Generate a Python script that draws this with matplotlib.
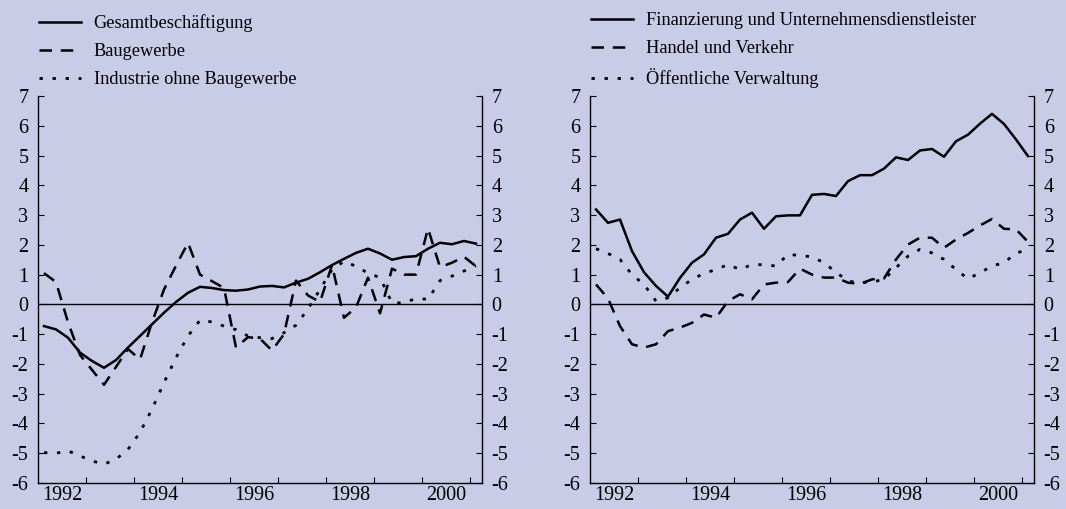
import numpy as np
import matplotlib
matplotlib.use('Agg')
import matplotlib.pyplot as plt

plt.rcParams['font.family'] = ['Liberation Serif', 'DejaVu Serif']
plt.rcParams['axes.unicode_minus'] = False

# quarterly data, 1992Q1 - 2001Q1 (year-on-year % change)
years = [1992] * 4 + [1993] * 4 + [1994] * 4 + [1995] * 4 + [1996] * 4 + \
        [1997] * 4 + [1998] * 4 + [1999] * 4 + [2000] * 4 + [2001]
quarters = [1, 2, 3, 4] * 9 + [1]

gesamt = [-0.73, -0.84, -1.12, -1.62, -1.90, -2.13, -1.87, -1.45, -1.06, -0.67,
          -0.28, 0.08, 0.39, 0.59, 0.55, 0.48, 0.46, 0.50, 0.60, 0.62,
          0.57, 0.73, 0.86, 1.08, 1.32, 1.53, 1.73, 1.87, 1.71, 1.50,
          1.59, 1.62, 1.87, 2.07, 2.02, 2.13, 2.04]
bau = [1.05, 0.75, -0.60, -1.70, -2.20, -2.70, -2.10, -1.50, -1.85, -0.60,
       0.50, 1.30, 2.07, 1.00, 0.78, 0.55, -1.45, -1.10, -1.15, -1.55,
       -1.00, 0.80, 0.30, 0.08, 1.32, -0.45, -0.10, 0.90, -0.30, 1.20,
       1.00, 1.00, 2.55, 1.25, 1.40, 1.60, 1.28]
industrie = [-4.98, -5.00, -4.92, -5.09, -5.26, -5.37, -5.20, -4.87, -4.30, -3.52,
             -2.63, -1.79, -1.06, -0.53, -0.59, -0.73, -0.85, -1.06, -1.12, -1.15,
             -0.95, -0.70, -0.15, 0.50, 1.17, 1.45, 1.28, 1.05, 0.90, 0.05,
             0.05, 0.20, 0.17, 0.80, 0.95, 1.12, 1.30]

finanz = [3.19, 2.74, 2.85, 1.79, 1.08, 0.62, 0.26, 0.89, 1.40, 1.68,
          2.24, 2.37, 2.85, 3.08, 2.54, 2.96, 2.99, 2.99, 3.68, 3.71,
          3.64, 4.14, 4.34, 4.34, 4.56, 4.94, 4.85, 5.17, 5.22, 4.96,
          5.48, 5.70, 6.07, 6.40, 6.06, 5.54, 4.98]
handel = [0.67, 0.20, -0.73, -1.34, -1.45, -1.34, -0.90, -0.78, -0.62, -0.34,
          -0.45, 0.11, 0.34, 0.17, 0.67, 0.73, 0.75, 1.20, 1.00, 0.90,
          0.90, 0.73, 0.69, 0.84, 0.87, 1.51, 2.01, 2.24, 2.24, 1.90,
          2.18, 2.40, 2.65, 2.87, 2.54, 2.52, 2.10]
verwaltung = [1.87, 1.71, 1.51, 1.00, 0.67, 0.11, 0.22, 0.56, 0.84, 1.04,
              1.17, 1.34, 1.17, 1.34, 1.33, 1.29, 1.68, 1.64, 1.60, 1.40,
              1.08, 0.78, 0.73, 0.75, 0.84, 1.23, 1.62, 1.85, 1.73, 1.51,
              1.17, 0.86, 1.06, 1.29, 1.40, 1.72, 1.85]

left_labels = ['Gesamtbeschäftigung', 'Baugewerbe', 'Industrie ohne Baugewerbe']
right_labels = ['Finanzierung und Unternehmensdienstleister', 'Handel und Verkehr',
                'Öffentliche Verwaltung']
year_labels = ['1992', '1994', '1996', '1998', '2000']

x = np.array(years) + (np.array(quarters) - 0.5) / 4

bg = '#c8cce6'
fs = 14.5
legend_fs = 13.2
styles = [dict(ls='-', lw=1.8),
          dict(ls=(0, (5, 3.5)), lw=1.8),
          dict(ls=(0, (1.2, 3.5)), lw=2.0)]

fig = plt.figure(figsize=(10.66, 5.09), dpi=100, facecolor=bg)
ax1 = fig.add_axes([38 / 1066, 26 / 509, 444 / 1066, 387 / 509])
ax2 = fig.add_axes([590 / 1066, 26 / 509, 444 / 1066, 387 / 509])


def setup(ax, series, labels):
    ax.set_facecolor(bg)
    for s, lab, st in zip(series, labels, styles):
        ax.plot(x, s, color='black', label=lab, **st)
    ax.axhline(0, color='black', lw=1.0)
    ax.set_xlim(1992, 2001.25)
    ax.set_ylim(-6, 7)
    ax.set_yticks(range(-6, 8))
    ax.spines['top'].set_visible(False)
    for sp in ['left', 'right', 'bottom']:
        ax.spines[sp].set_linewidth(1.0)
    ax.tick_params(axis='y', direction='in', length=4, labelsize=fs, pad=7,
                   left=True, right=True, labelleft=True, labelright=True)
    ax.set_xticks(range(1993, 2002))
    ax.set_xticklabels([])
    ax.set_xticks([int(y) + 0.5 for y in year_labels], minor=True)
    ax.set_xticklabels(year_labels, minor=True)
    ax.tick_params(axis='x', which='major', direction='in', length=4)
    ax.tick_params(axis='x', which='minor', length=0, labelsize=fs, pad=2)
    ax.legend(loc='lower left', bbox_to_anchor=(-0.003, 1.015), frameon=False,
              fontsize=legend_fs, handlelength=2.3, handletextpad=0.7,
              labelspacing=0.6, borderaxespad=0, borderpad=0.1)


setup(ax1, [gesamt, bau, industrie], left_labels)
setup(ax2, [finanz, handel, verwaltung], right_labels)

fig.savefig('out.png', dpi=100, facecolor=bg)
